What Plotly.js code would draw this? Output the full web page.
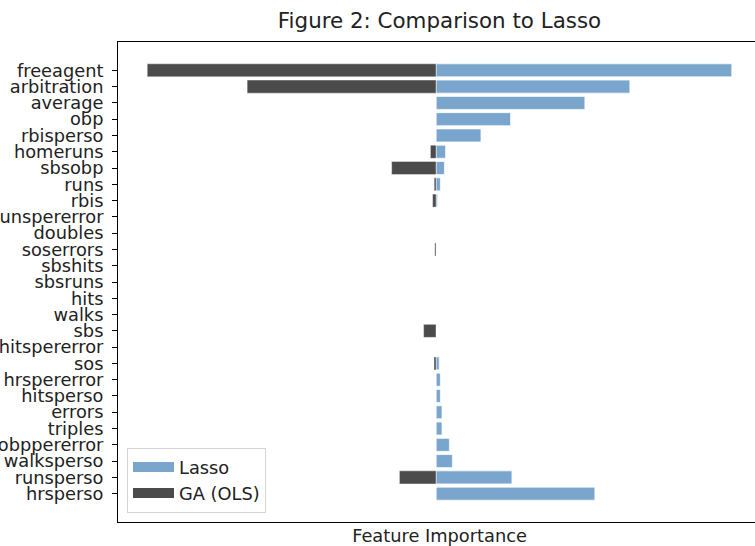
<!DOCTYPE html>
<html>
<head>
<meta charset="utf-8">
<script src="https://cdn.plot.ly/plotly-3.0.1.min.js"></script>
<style>
html, body { margin: 0; padding: 0; overflow: hidden; background: #fff; width: 755px; height: 546px; }
#chart { width: 762px; height: 546px; }
</style>
</head>
<body>
<div id="chart"></div>
<script>
const features = ["freeagent", "arbitration", "average", "obp", "rbisperso", "homeruns", "sbsobp", "runs", "rbis",
  "runspererror", "doubles", "soserrors", "sbshits", "sbsruns", "hits", "walks", "sbs", "hitspererror", "sos",
  "hrspererror", "hitsperso", "errors", "triples", "obppererror", "walksperso", "runsperso", "hrsperso"];
const lassoValues = [1.48, 0.97, 0.745, 0.373, 0.225, 0.048, 0.042, 0.022, 0.008,
  0, 0, 0, 0, 0, 0, 0, 0, 0, 0.016,
  0.022, 0.022, 0.03, 0.03, 0.067, 0.082, 0.38, 0.795];
const gaValues = [-1.445, -0.945, 0, 0, 0, -0.028, -0.222, -0.009, -0.017,
  0, 0, -0.006, 0, 0, 0, 0, -0.062, 0, -0.01,
  0, 0, 0, 0, 0, 0, -0.183, 0];
const seriesNames = ["Lasso", "GA (OLS)"];
const seriesColors = ["#7aa6cd", "#4b4b4b"];

const all = lassoValues.concat(gaValues);
const xmin = Math.min(...all), xmax = Math.max(...all);
const xpad = 0.05 * (xmax - xmin);
const n = features.length;
const ypad = 0.05 * (n - 1 + 0.8);

const font = "DejaVu Sans, sans-serif";

const traces = [
  {
    type: "bar", orientation: "h", name: seriesNames[0], showlegend: false,
    y: features, x: lassoValues,
    marker: { color: seriesColors[0], line: { color: "rgba(255,255,255,0.7)", width: 1 } }
  },
  {
    type: "bar", orientation: "h", name: seriesNames[1], showlegend: false,
    y: features, x: gaValues,
    marker: { color: seriesColors[1], line: { color: "rgba(255,255,255,0.4)", width: 1 } }
  },
  // legend entries drawn as wide patches like the original
  { type: "scatter", mode: "lines", name: seriesNames[0], x: [null], y: [null],
    line: { color: seriesColors[0], width: 13 }, hoverinfo: "skip" },
  { type: "scatter", mode: "lines", name: seriesNames[1], x: [null], y: [null],
    line: { color: seriesColors[1], width: 13 }, hoverinfo: "skip" }
];

const layout = {
  width: 762, height: 546,
  margin: { l: 118, r: 1, t: 42, b: 24 },
  paper_bgcolor: "#fff", plot_bgcolor: "#fff",
  barmode: "overlay", bargap: 0.2,
  font: { family: font, size: 17.8, color: "#222" },
  title: { text: "Figure 2: Comparison to Lasso", font: { family: font, size: 21.4, color: "#222" },
    x: 0.5, xref: "paper", xanchor: "center", y: 1 - 21 / 546, yanchor: "middle" },
  xaxis: {
    range: [xmin - xpad, xmax + xpad],
    showgrid: false, zeroline: false, showticklabels: false, ticks: "",
    showline: true, mirror: true, linecolor: "#000", linewidth: 1,
    title: { text: "Feature Importance", font: { family: font, size: 17.8, color: "#222" }, standoff: 9 },
    automargin: false
  },
  yaxis: {
    type: "category",
    range: [n - 1 + 0.4 + ypad, -0.4 - ypad],
    tickmode: "linear", tick0: 0, dtick: 1,
    showgrid: false, zeroline: false,
    ticks: "outside", ticklen: 5, tickwidth: 1, tickcolor: "#000",
    ticklabelstandoff: 5,
    tickfont: { family: font, size: 17.8, color: "#222" },
    showline: true, mirror: true, linecolor: "#000", linewidth: 1,
    automargin: false
  },
  legend: {
    x: 0.014, y: 0.019, xanchor: "left", yanchor: "bottom",
    bgcolor: "rgba(255,255,255,0.8)", bordercolor: "#d5d5d5", borderwidth: 1,
    font: { family: font, size: 17.8, color: "#222" },
    traceorder: "normal", itemwidth: 41, tracegroupgap: 0
  },
  showlegend: true
};

Plotly.newPlot("chart", traces, layout, { displayModeBar: false, staticPlot: true });
</script>
</body>
</html>
